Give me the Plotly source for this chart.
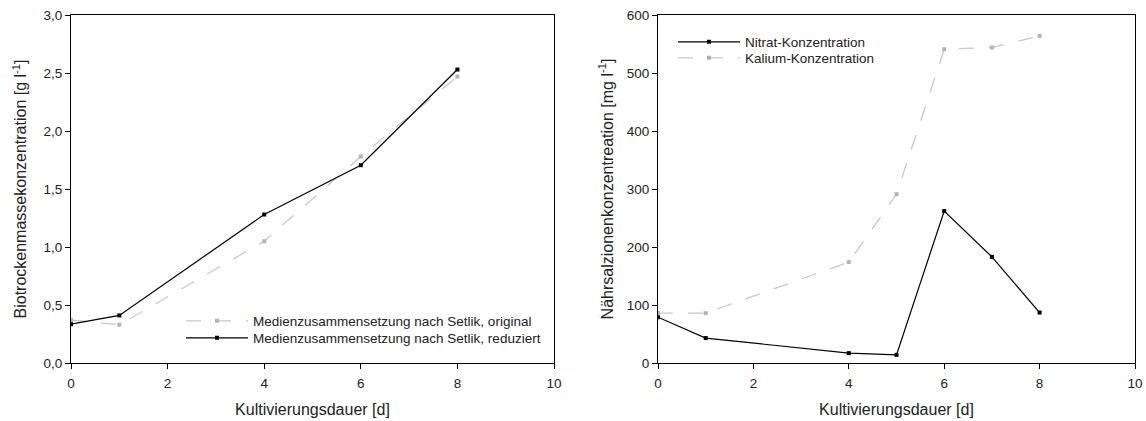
import plotly.graph_objects as go

# Left panel data
days_bio = [0, 1, 4, 6, 8]
bio_original = [0.37, 0.33, 1.05, 1.78, 2.47]
bio_reduziert = [0.335, 0.41, 1.28, 1.705, 2.53]

# Right panel data
days_ion = [0, 1, 4, 5, 6, 7, 8]
nitrat = [79, 43, 17, 14, 262, 183, 87]
kalium = [86, 86, 174, 291, 541, 544, 564]

GRAY_LINE = "#c8c8c8"
GRAY_MARK = "#b4b4b4"
BLACK = "#000000"
FONT = "Liberation Sans, Arial, sans-serif"

fig = go.Figure()

fig.add_trace(go.Scatter(
    x=days_bio, y=bio_original, mode="lines+markers",
    name="Medienzusammensetzung nach Setlik, original",
    line=dict(color=GRAY_LINE, width=1.3, dash="longdash"),
    marker=dict(symbol="square", size=4, color=GRAY_MARK),
    xaxis="x", yaxis="y", legend="legend", showlegend=True))
fig.add_trace(go.Scatter(
    x=days_bio, y=bio_reduziert, mode="lines+markers",
    name="Medienzusammensetzung nach Setlik, reduziert",
    line=dict(color=BLACK, width=1.2),
    marker=dict(symbol="square", size=4, color=BLACK),
    xaxis="x", yaxis="y", legend="legend2", showlegend=True))

fig.add_trace(go.Scatter(
    x=days_ion, y=nitrat, mode="lines+markers",
    name="Nitrat-Konzentration",
    line=dict(color=BLACK, width=1.2),
    marker=dict(symbol="square", size=4, color=BLACK),
    xaxis="x2", yaxis="y2", legend="legend3", showlegend=True))
fig.add_trace(go.Scatter(
    x=days_ion, y=kalium, mode="lines+markers",
    name="Kalium-Konzentration",
    line=dict(color=GRAY_LINE, width=1.3, dash="longdash"),
    marker=dict(symbol="square", size=4, color=GRAY_MARK),
    xaxis="x2", yaxis="y2", legend="legend4", showlegend=True))

W, H = 1146, 421
def px_x(p): return p / W
def px_y(p): return 1 - p / H

axis_common = dict(showgrid=False, zeroline=False, showline=True, linecolor="black",
                   linewidth=1, mirror=True, ticks="outside", ticklen=5, tickcolor="black",
                   tickfont=dict(size=13.5, color="#222"), automargin=False)

def leg(xpx, ypx):
    return dict(x=px_x(xpx), y=px_y(ypx), xanchor="left", yanchor="middle",
                bgcolor="rgba(0,0,0,0)", font=dict(size=13.5, color="#222"),
                tracegroupgap=0, itemwidth=62, borderwidth=0, visible=True)

fig.update_layout(
    width=W, height=H,
    margin=dict(l=0, r=0, t=0, b=0),
    paper_bgcolor="white", plot_bgcolor="white",
    font=dict(family=FONT, color="#222"),
    separators=", ",
    showlegend=True,
    hovermode=False,
    xaxis=dict(domain=[px_x(71), px_x(554)], range=[0, 10], dtick=2, anchor="y",
               ticklabelstandoff=3,
               title=dict(text="Kultivierungsdauer [d]", font=dict(size=16), standoff=13),
               **axis_common),
    yaxis=dict(domain=[px_y(363), px_y(15)], range=[0, 3], dtick=0.5, tickformat=".1f",
               anchor="x",
               title=dict(text="Biotrockenmassekonzentration [g l<sup>-1</sup>]", font=dict(size=16), standoff=12),
               **axis_common),
    xaxis2=dict(domain=[px_x(658), px_x(1135)], range=[0, 10], dtick=2, anchor="y2",
                ticklabelstandoff=3,
                title=dict(text="Kultivierungsdauer [d]", font=dict(size=16), standoff=13),
                **axis_common),
    yaxis2=dict(domain=[px_y(363), px_y(15)], range=[0, 600], dtick=100, anchor="x2",
                title=dict(text="Nährsalzionenkonzentreation [mg l<sup>-1</sup>]", font=dict(size=16), standoff=9),
                **axis_common),
    legend=leg(181, 321),
    legend2=leg(181, 338),
    legend3=leg(673, 42),
    legend4=leg(673, 58),
)

fig.write_html("out.html", config={"displayModeBar": False},
               post_script="document.body.style.margin='0px';")
